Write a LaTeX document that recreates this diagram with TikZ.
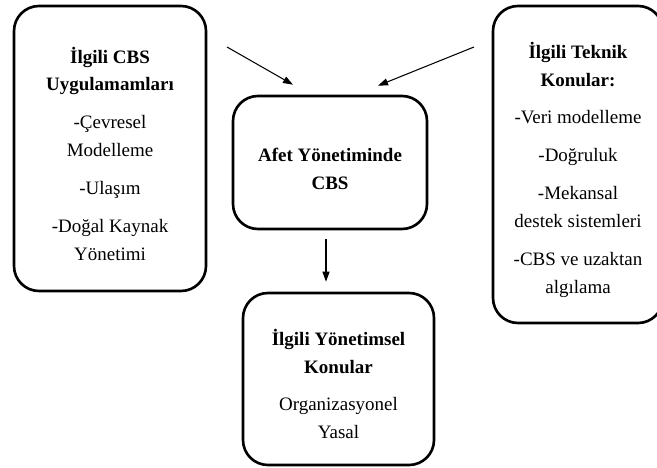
\documentclass[tikz,border=0pt]{standalone}
\usepackage{fontspec}
\setmainfont{Liberation Serif}
\usetikzlibrary{positioning, arrows.meta}

% first line with some air above it
\newcommand{\topline}[1]{\rule{0pt}{15pt}\textbf{#1}}

\begin{document}
\begin{tikzpicture}[
    topic/.style={rectangle, draw, line width=1.5pt, rounded corners=0.5cm,
                  align=center, inner sep=0pt,
                  font=\fontsize{10.8}{15.9}\selectfont},
    link/.style={-{Triangle[length=0.2cm, width=0.14cm]}, line width=0.6pt}
]
  \clip (0,0) rectangle (13.14,-9.36);

  % CBS uygulamalari
  \node[topic, minimum width=3.84cm, minimum height=5.7cm] (uyg) at (2.2,-2.97)
    {\topline{İlgili CBS}\\ \textbf{Uygulamamları}\\[5.6pt] -Çevresel\\ Modelleme\\[5.6pt]
     -Ulaşım\\[5.6pt] -Doğal Kaynak\\ Yönetimi};

  % Afet yonetimi
  \node[topic, minimum width=3.88cm, minimum height=2.66cm] (afet) at (6.6,-3.25)
    {\topline{Afet Yönetiminde}\\ \textbf{CBS}};

  % Teknik konular
  \node[topic, minimum width=3.4cm, minimum height=6.34cm] (tek) at (11.56,-3.29)
    {\topline{İlgili Teknik}\\ \textbf{Konular:}\\[5.6pt] -Veri modelleme\\[5.6pt]
     -Doğruluk\\[5.6pt] -Mekansal\\ destek sistemleri\\[5.6pt] -CBS ve uzaktan\\ algılama};

  % Yonetimsel konular
  \node[topic, minimum width=3.82cm, minimum height=3.44cm] (yon) at (6.77,-7.58)
    {\topline{İlgili Yönetimsel}\\ \textbf{Konular}\\[5.6pt] Organizasyonel\\ Yasal};

  % Arrows
  \coordinate (uygOut) at (4.54,-0.94);
  \coordinate (tekOut) at (9.48,-0.94);
  \draw[link] (uygOut) -- ([xshift=-0.74cm, yshift=0.2cm]afet.north);
  \draw[link] (tekOut) -- ([xshift=0.96cm, yshift=0.18cm]afet.north);
  \draw[link] ([xshift=-0.08cm, yshift=-0.18cm]afet.south) -- ([xshift=-0.25cm, yshift=0.2cm]yon.north);
\end{tikzpicture}
\end{document}
